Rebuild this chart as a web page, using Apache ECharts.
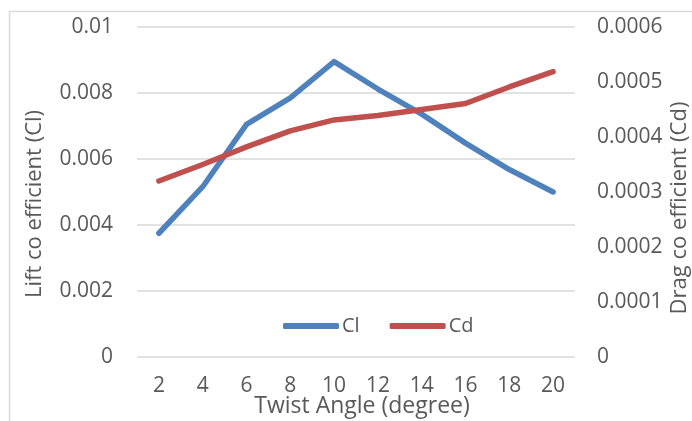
<!DOCTYPE html>
<html>
<head>
<meta charset="utf-8">
<script src="https://cdn.jsdelivr.net/npm/echarts@6/dist/echarts.min.js"></script>
<style>
  html, body { margin: 0; padding: 0; background: #fff; }
  #chart { width: 692px; height: 421px; }
</style>
</head>
<body>
<div id="chart"></div>
<script>
// Twist angle (degree) categories
const twistAngles = ['2', '4', '6', '8', '10', '12', '14', '16', '18', '20'];
// Lift coefficient (left axis)
const liftCl = [0.00375, 0.00516, 0.00705, 0.00785, 0.00895, 0.00812, 0.00736, 0.00648, 0.00568, 0.00500];
// Drag coefficient (right axis)
const dragCd = [0.000320, 0.000350, 0.000382, 0.000411, 0.000431, 0.000439, 0.000450, 0.000461, 0.000491, 0.000519];

const FONT = '"Open Sans", "Noto Sans", sans-serif';
const TEXT = '#595959';
const GRID = '#d9d9d9';
const TICK_SIZE = 21;
const NAME_SIZE = 22;

const chart = echarts.init(document.getElementById('chart'), null, { renderer: 'canvas' });

chart.setOption({
  animation: false,
  backgroundColor: '#fff',
  textStyle: { fontFamily: FONT },
  graphic: [{
    type: 'rect',
    shape: { x: 9.5, y: 11.5, width: 700, height: 430 },
    style: { fill: 'none', stroke: GRID, lineWidth: 1.5 },
    silent: true
  }],
  grid: { left: 137, right: 117, top: 27, bottom: 64, containLabel: false, outerBoundsMode: 'none' },
  legend: {
    left: 278,
    top: 311,
    itemWidth: 56,
    itemHeight: 6,
    itemGap: 30,
    icon: 'roundRect',
    textStyle: { fontFamily: FONT, fontSize: 20, color: TEXT, padding: [0, 0, 0, -2] },
    data: ['Cl', 'Cd']
  },
  xAxis: {
    type: 'category',
    data: twistAngles,
    boundaryGap: true,
    name: 'Twist Angle (degree)',
    nameLocation: 'middle',
    nameGap: 38,
    nameMoveOverlap: false,
    nameTextStyle: { fontFamily: FONT, fontSize: 23, color: TEXT, padding: [0, 0, 0, 12] },
    axisLine: { show: false },
    axisTick: { show: false },
    axisLabel: { fontFamily: FONT, fontSize: TICK_SIZE, color: TEXT, margin: 19 }
  },
  yAxis: [{
    type: 'value',
    min: 0,
    max: 0.01,
    interval: 0.002,
    position: 'left',
    name: 'Lift co efficient (Cl)',
    nameLocation: 'middle',
    nameGap: 91,
    nameMoveOverlap: false,
    nameTextStyle: { fontFamily: FONT, fontSize: NAME_SIZE, color: TEXT, padding: [0, 24, 0, 0] },
    axisLine: { show: false },
    axisTick: { show: false },
    splitLine: { lineStyle: { color: GRID, width: 1.5 } },
    axisLabel: { fontFamily: FONT, fontSize: TICK_SIZE, color: TEXT, margin: 24 }
  }, {
    type: 'value',
    min: 0,
    max: 0.0006,
    interval: 0.0001,
    position: 'right',
    name: 'Drag co efficient (Cd)',
    nameLocation: 'middle',
    nameGap: 94,
    nameMoveOverlap: false,
    nameTextStyle: { fontFamily: FONT, fontSize: NAME_SIZE, color: TEXT, padding: [0, 32, 0, 0] },
    axisLine: { show: false },
    axisTick: { show: false },
    splitLine: { show: false },
    axisLabel: { fontFamily: FONT, fontSize: TICK_SIZE, color: TEXT, margin: 22 }
  }],
  series: [{
    name: 'Cl',
    type: 'line',
    yAxisIndex: 0,
    data: liftCl,
    showSymbol: false,
    symbol: 'none',
    color: '#4f81bd',
    lineStyle: { width: 5.5, color: '#4f81bd', cap: 'round', join: 'round' }
  }, {
    name: 'Cd',
    type: 'line',
    yAxisIndex: 1,
    data: dragCd,
    showSymbol: false,
    symbol: 'none',
    color: '#c0504d',
    lineStyle: { width: 5.5, color: '#c0504d', cap: 'round', join: 'round' }
  }]
});
</script>
</body>
</html>
